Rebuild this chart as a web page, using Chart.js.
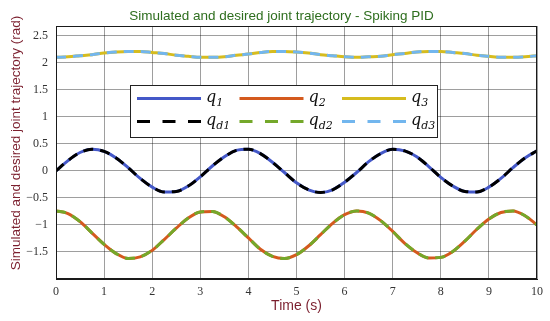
<!DOCTYPE html>
<html>
<head>
<meta charset="utf-8">
<script src="https://cdn.jsdelivr.net/npm/chart.js@4.4.1/dist/chart.umd.min.js"></script>
<style>
  html, body { margin: 0; padding: 0; background: #fff; }
  #wrap { width: 550px; height: 321px; position: relative; }
</style>
</head>
<body>
<div id="wrap"><canvas id="c" width="550" height="321"></canvas></div>
<script>
// ---- data ----
const times = [0,0.25,0.5,0.75,1,1.25,1.5,1.75,2,2.25,2.5,2.75,3,3.25,3.5,3.75,4,4.25,4.5,4.75,5,5.25,5.5,5.75,6,6.25,6.5,6.75,7,7.25,7.5,7.75,8,8.25,8.5,8.75,9,9.25,9.5,9.75,10];
const q1  = [0,0.19,0.34,0.40,0.36,0.24,0.06,-0.14,-0.30,-0.39,-0.38,-0.28,-0.11,0.09,0.26,0.38,0.40,0.32,0.16,-0.03,-0.22,-0.35,-0.40,-0.35,-0.21,-0.03,0.17,0.32,0.40,0.37,0.26,0.08,-0.12,-0.28,-0.38,-0.39,-0.30,-0.14,0.06,0.24,0.37];
const qd1 = [0,0.19,0.34,0.40,0.36,0.24,0.06,-0.14,-0.30,-0.39,-0.38,-0.28,-0.11,0.09,0.26,0.38,0.40,0.32,0.16,-0.03,-0.22,-0.35,-0.40,-0.35,-0.21,-0.03,0.17,0.32,0.40,0.37,0.26,0.08,-0.12,-0.28,-0.38,-0.39,-0.30,-0.14,0.06,0.24,0.37];
const q2  = [-0.74,-0.79,-0.94,-1.15,-1.36,-1.53,-1.62,-1.59,-1.47,-1.27,-1.06,-0.87,-0.76,-0.75,-0.85,-1.03,-1.24,-1.45,-1.58,-1.62,-1.55,-1.39,-1.18,-0.97,-0.81,-0.74,-0.78,-0.92,-1.12,-1.34,-1.51,-1.61,-1.60,-1.49,-1.30,-1.08,-0.89,-0.77,-0.74,-0.83,-1.00];
const qd2 = [-0.74,-0.79,-0.94,-1.15,-1.36,-1.53,-1.62,-1.59,-1.47,-1.27,-1.06,-0.87,-0.76,-0.75,-0.85,-1.03,-1.24,-1.45,-1.58,-1.62,-1.55,-1.39,-1.18,-0.97,-0.81,-0.74,-0.78,-0.92,-1.12,-1.34,-1.51,-1.61,-1.60,-1.49,-1.30,-1.08,-0.89,-0.77,-0.74,-0.83,-1.00];
const q3  = [2.10,2.11,2.13,2.15,2.18,2.20,2.21,2.21,2.19,2.17,2.14,2.12,2.10,2.10,2.11,2.14,2.16,2.19,2.21,2.21,2.20,2.18,2.15,2.13,2.11,2.10,2.11,2.12,2.15,2.17,2.20,2.21,2.21,2.19,2.17,2.14,2.12,2.10,2.10,2.11,2.13];
const qd3 = [2.10,2.11,2.13,2.15,2.18,2.20,2.21,2.21,2.19,2.17,2.14,2.12,2.10,2.10,2.11,2.14,2.16,2.19,2.21,2.21,2.20,2.18,2.15,2.13,2.11,2.10,2.11,2.12,2.15,2.17,2.20,2.21,2.21,2.19,2.17,2.14,2.12,2.10,2.10,2.11,2.13];
const xTicks = [0,1,2,3,4,5,6,7,8,9,10];
const yTicks = [-1.5,-1,-0.5,0,0.5,1,1.5,2,2.5];
const titleText = 'Simulated and desired joint trajectory - Spiking PID';
const xTitle = 'Time (s)';
const yTitle = 'Simulated and desired joint trajectory (rad)';
const seriesNames = [['q','1'],['q','2'],['q','3'],['q','d1'],['q','d2'],['q','d3']];

// ---- chart ----
const pts = arr => times.map((t, i) => ({ x: t, y: arr[i] }));
const C = { q1:'#4458c8', q2:'#d45a1e', q3:'#d6bc1e', qd1:'#000000', qd2:'#74a82a', qd3:'#72b6ee' };
const DASH = [10, 7];

function ds(label, data, color, dashed, sub) {
  return {
    label, data: pts(data), borderColor: color, backgroundColor: color,
    borderWidth: 3, pointRadius: 0, tension: 0.4, cubicInterpolationMode: 'monotone',
    borderDash: dashed ? DASH : [], order: dashed ? 0 : 1, fill: false, sub
  };
}

const datasets = [
  ds('q1', q1, C.q1, false, seriesNames[0]),
  ds('q2', q2, C.q2, false, seriesNames[1]),
  ds('q3', q3, C.q3, false, seriesNames[2]),
  ds('qd1', qd1, C.qd1, true, seriesNames[3]),
  ds('qd2', qd2, C.qd2, true, seriesNames[4]),
  ds('qd3', qd3, C.qd3, true, seriesNames[5])
];

const fmt = v => (v < 0 ? '\u2212' + Math.abs(v) : String(v));

const overlay = {
  id: 'overlay',
  afterDatasetsDraw(chart) {
    const { ctx, chartArea: a } = chart;
    ctx.save();
    // frame
    ctx.setLineDash([]);
    ctx.strokeStyle = '#1a1a1a';
    ctx.lineWidth = 1;
    ctx.strokeRect(Math.round(a.left) + 0.5, Math.round(a.top) + 0.5,
                   Math.round(a.right - a.left) - 1, Math.round(a.bottom - a.top) - 1);

    // legend box
    const bx = 130, by = 85, bw = 307, bh = 52;
    ctx.fillStyle = '#ffffff';
    ctx.fillRect(bx, by, bw, bh);
    ctx.strokeStyle = '#222';
    ctx.strokeRect(bx + 0.5, by + 0.5, bw, bh);

    const colX = [137, 239.5, 342];
    const rowY = [98.5, 121.5];
    const sets = chart.data.datasets;
    sets.forEach((d, i) => {
      const r = i < 3 ? 0 : 1, c = i % 3;
      const x0 = colX[c], y0 = rowY[r];
      ctx.beginPath();
      ctx.lineWidth = 3;
      ctx.strokeStyle = d.borderColor;
      ctx.setLineDash(d.borderDash.length ? [13, 12.5] : []);
      ctx.moveTo(x0, y0);
      ctx.lineTo(x0 + 64, y0);
      ctx.stroke();
      ctx.setLineDash([]);
      // label q_sub
      ctx.fillStyle = '#111';
      ctx.textBaseline = 'alphabetic';
      ctx.textAlign = 'left';
      ctx.font = 'italic 16px "DejaVu Serif"';
      const tx = x0 + 69;
      ctx.fillText(d.sub[0], tx, y0 + 3);
      const w = ctx.measureText(d.sub[0]).width;
      ctx.font = 'italic 11px "DejaVu Serif"';
      ctx.fillText(d.sub[1], tx + w, y0 + 7);
    });

    // title
    ctx.fillStyle = '#2e6e1e';
    ctx.font = '13.5px "Liberation Sans"';
    ctx.textAlign = 'center';
    ctx.textBaseline = 'middle';
    ctx.fillText(titleText, 281.5, 16.5);

    // y title
    ctx.save();
    ctx.translate(16.5, 143);
    ctx.rotate(-Math.PI / 2);
    ctx.fillStyle = '#7b1f2e';
    ctx.font = '13.5px "Liberation Sans"';
    ctx.fillText(yTitle, 0, 0);
    ctx.restore();

    ctx.restore();
  }
};

new Chart(document.getElementById('c'), {
  type: 'line',
  data: { datasets },
  options: {
    responsive: false,
    animation: false,
    devicePixelRatio: 1,
    layout: { padding: { top: 26, right: 13, bottom: 0, left: 0 } },
    plugins: { legend: { display: false }, tooltip: { enabled: false }, title: { display: false } },
    scales: {
      x: {
        type: 'linear', min: 0, max: 10,
        afterFit(s) { s.height = 42; },
        afterBuildTicks(s) { s.ticks = xTicks.map(v => ({ value: v })); },
        grid: { color: 'rgba(0,0,0,0.38)', lineWidth: 1, drawTicks: false },
        border: { display: true, color: '#1a1a1a' },
        ticks: { padding: 6, color: '#333', font: { family: '"Liberation Serif"', size: 12 }, maxRotation: 0, callback: v => fmt(v) },
        title: { display: true, text: xTitle, color: '#7b1f2e', font: { family: '"Liberation Sans"', size: 14 }, padding: { top: 0, bottom: 6 } }
      },
      y: {
        type: 'linear', min: -2, max: 2.68,
        afterFit(s) { s.width = 56; },
        afterBuildTicks(s) { s.ticks = yTicks.map(v => ({ value: v })); },
        grid: { color: 'rgba(0,0,0,0.38)', lineWidth: 1, drawTicks: false },
        border: { display: true, color: '#1a1a1a' },
        ticks: { padding: 8, color: '#333', font: { family: '"Liberation Serif"', size: 12 }, callback: v => fmt(v) }
      }
    }
  },
  plugins: [overlay]
});
</script>
</body>
</html>
